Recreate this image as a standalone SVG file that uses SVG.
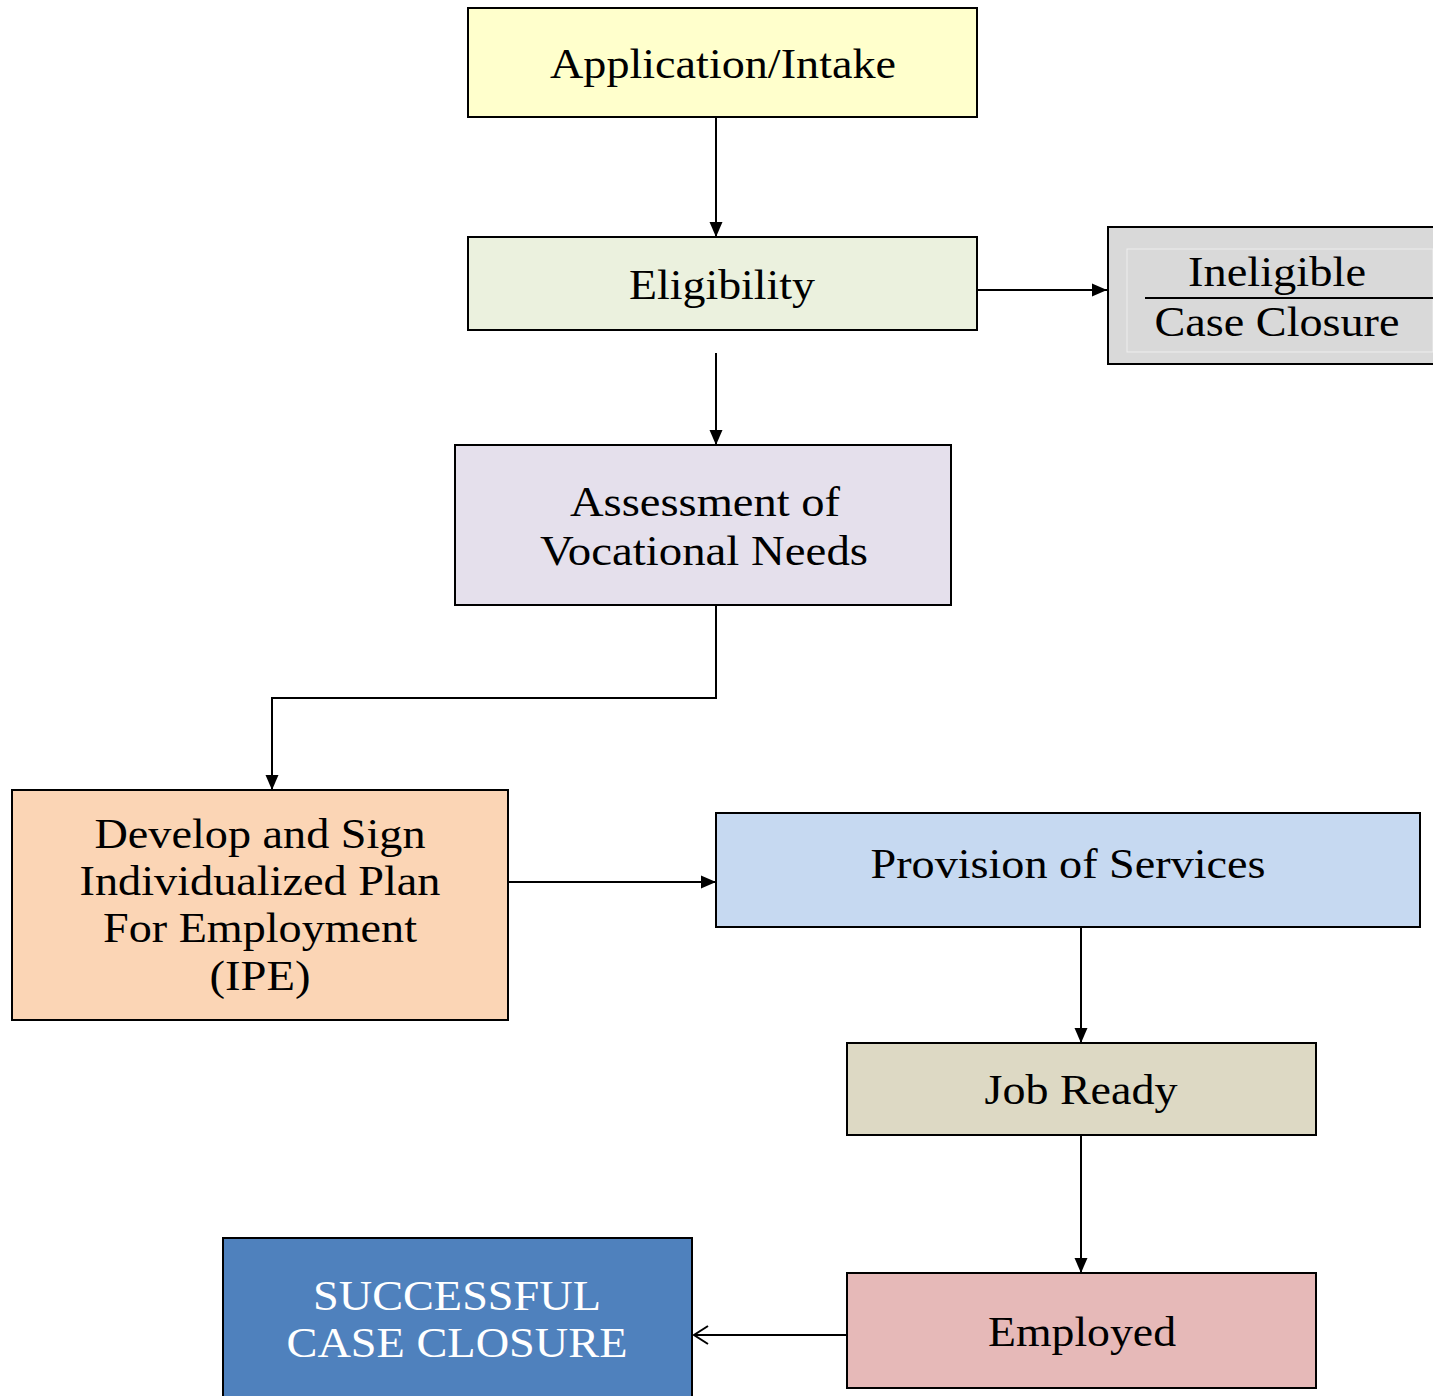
<svg xmlns="http://www.w3.org/2000/svg" width="1433" height="1396" viewBox="0 0 1433 1396">
<style>
.box{stroke:#000;stroke-width:2}
.t{font-family:"Liberation Serif","Times New Roman",serif;font-size:42px;fill:#000}
.w{fill:#fff}
.c{stroke:#000;stroke-width:2;fill:none}
</style>
<defs>
<marker id="ah" markerWidth="16" markerHeight="16" refX="15" refY="8" orient="auto" markerUnits="userSpaceOnUse" viewBox="0 0 16 16">
<path d="M0,1.5 L15,8 L0,14.5 z" fill="#000"/>
</marker>
<marker id="oh" markerWidth="18" markerHeight="22" refX="16" refY="11" orient="auto" markerUnits="userSpaceOnUse" viewBox="0 0 18 22">
<path d="M2,2 L16,11 L2,20" fill="none" stroke="#000" stroke-width="2"/>
</marker>
</defs>
<rect width="1433" height="1396" fill="#fff"/>
<g id="connectors">
<line class="c" x1="716" y1="117" x2="716" y2="237" marker-end="url(#ah)"/>
<line class="c" x1="977" y1="290" x2="1107" y2="290" marker-end="url(#ah)"/>
<line class="c" x1="716" y1="353" x2="716" y2="445" marker-end="url(#ah)"/>
<polyline class="c" points="716,605 716,698 272,698 272,790" marker-end="url(#ah)"/>
<line class="c" x1="508" y1="882" x2="716" y2="882" marker-end="url(#ah)"/>
<line class="c" x1="1081" y1="927" x2="1081" y2="1043" marker-end="url(#ah)"/>
<line class="c" x1="1081" y1="1135" x2="1081" y2="1273" marker-end="url(#ah)"/>
<line class="c" x1="847" y1="1335" x2="694" y2="1335" marker-end="url(#oh)"/>
</g>
<g id="application">
<rect class="box" x="468" y="8" width="509" height="109" fill="#FFFFCC"/>
<text class="t" x="723" y="78" text-anchor="middle" textLength="346" lengthAdjust="spacingAndGlyphs">Application/Intake</text>
</g>
<g id="eligibility">
<rect class="box" x="468" y="237" width="509" height="93" fill="#EBF1DE"/>
<text class="t" x="722" y="299" text-anchor="middle" textLength="186" lengthAdjust="spacingAndGlyphs">Eligibility</text>
</g>
<g id="ineligible">
<rect class="box" x="1108" y="227" width="330" height="137" fill="#D9D9D9"/>
<rect x="1127" y="249" width="306" height="103" fill="none" stroke="#eeeeee" stroke-width="1"/>
<line x1="1145" y1="298" x2="1433" y2="298" stroke="#000" stroke-width="2"/>
<text class="t" x="1277" y="286" text-anchor="middle" textLength="178" lengthAdjust="spacingAndGlyphs">Ineligible</text>
<text class="t" x="1277" y="336" text-anchor="middle" textLength="245" lengthAdjust="spacingAndGlyphs">Case Closure</text>
</g>
<g id="assessment">
<rect class="box" x="455" y="445" width="496" height="160" fill="#E5E0EC"/>
<text class="t" x="705" y="516" text-anchor="middle" textLength="270" lengthAdjust="spacingAndGlyphs">Assessment of</text>
<text class="t" x="704" y="565" text-anchor="middle" textLength="328" lengthAdjust="spacingAndGlyphs">Vocational Needs</text>
</g>
<g id="ipe">
<rect class="box" x="12" y="790" width="496" height="230" fill="#FBD5B5"/>
<text class="t" x="260" y="848" text-anchor="middle" textLength="331" lengthAdjust="spacingAndGlyphs">Develop and Sign</text>
<text class="t" x="260" y="895" text-anchor="middle" textLength="361" lengthAdjust="spacingAndGlyphs">Individualized Plan</text>
<text class="t" x="260" y="942" text-anchor="middle" textLength="314" lengthAdjust="spacingAndGlyphs">For Employment</text>
<text class="t" x="260" y="990" text-anchor="middle" textLength="101" lengthAdjust="spacingAndGlyphs">(IPE)</text>
</g>
<g id="provision">
<rect class="box" x="716" y="813" width="704" height="114" fill="#C6D9F1"/>
<text class="t" x="1068" y="878" text-anchor="middle" textLength="395" lengthAdjust="spacingAndGlyphs">Provision of Services</text>
</g>
<g id="jobready">
<rect class="box" x="847" y="1043" width="469" height="92" fill="#DDD9C4"/>
<text class="t" x="1081" y="1104" text-anchor="middle" textLength="193" lengthAdjust="spacingAndGlyphs">Job Ready</text>
</g>
<g id="employed">
<rect class="box" x="847" y="1273" width="469" height="115" fill="#E6B9B8"/>
<text class="t" x="1082" y="1346" text-anchor="middle" textLength="188" lengthAdjust="spacingAndGlyphs">Employed</text>
</g>
<g id="successful">
<rect class="box" x="223" y="1238" width="469" height="170" fill="#4F81BD"/>
<text class="t w" x="457" y="1310" text-anchor="middle" textLength="288" lengthAdjust="spacingAndGlyphs">SUCCESSFUL</text>
<text class="t w" x="457" y="1357" text-anchor="middle" textLength="341" lengthAdjust="spacingAndGlyphs">CASE CLOSURE</text>
</g>
</svg>
